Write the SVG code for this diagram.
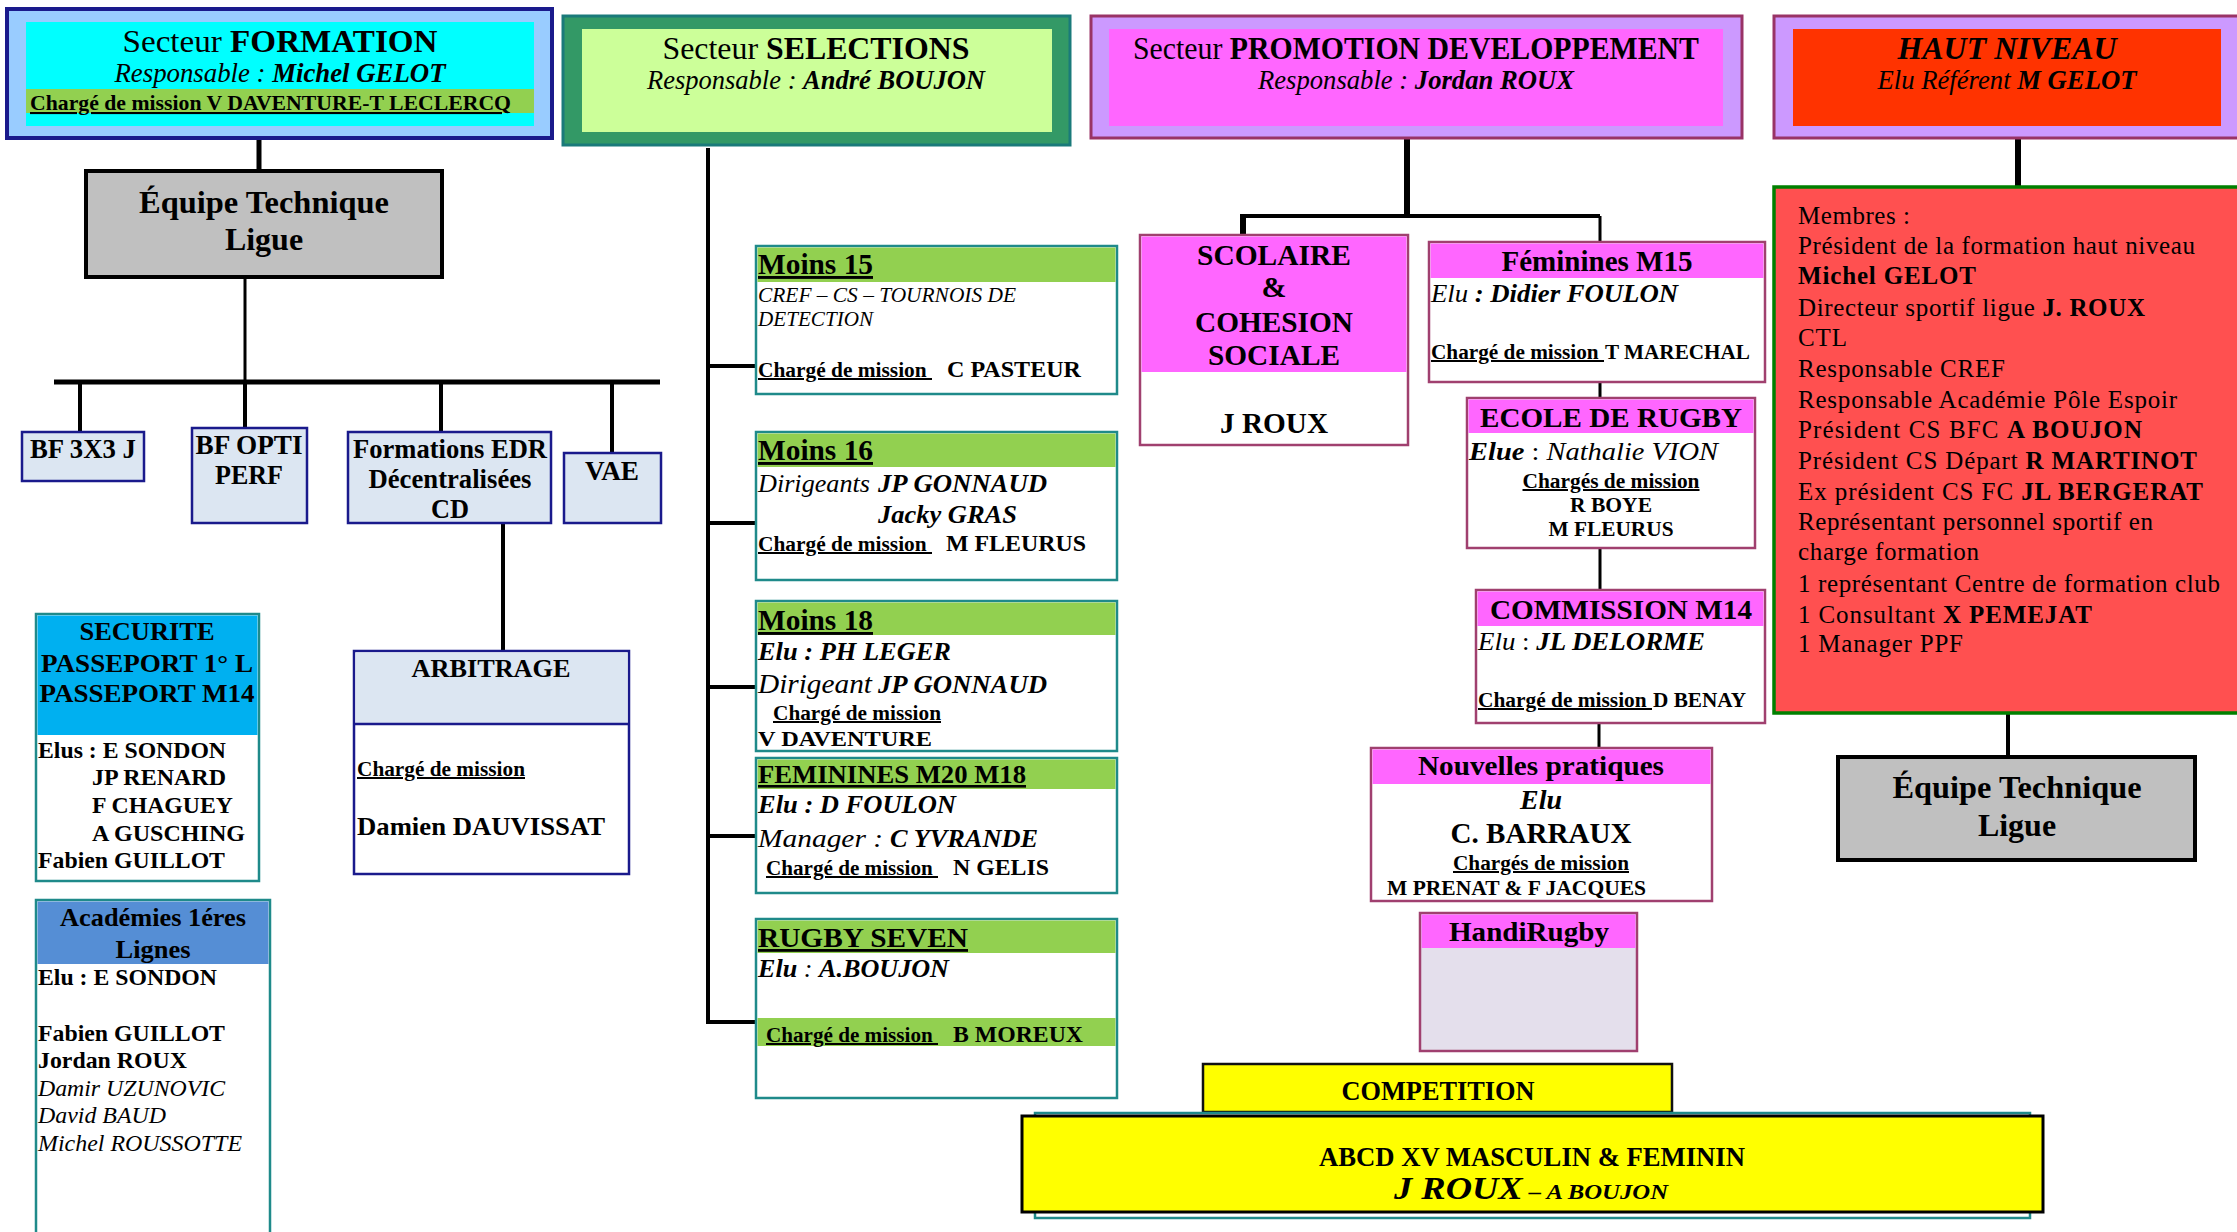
<svg xmlns="http://www.w3.org/2000/svg" width="2237" height="1232" viewBox="0 0 2237 1232">
<style>
text{font-family:"Liberation Serif","Times New Roman",serif;fill:#000}
.b{font-weight:bold}
.i{font-style:italic}
.n{font-weight:normal;font-style:normal}
.u{text-decoration:underline}
.c{text-anchor:middle}
.sq{lengthAdjust:spacingAndGlyphs}
.tealbox{fill:#fff;stroke:#1f8a8a;stroke-width:2.5}
.plumbox{fill:#fff;stroke:#a0406f;stroke-width:2.5}
.navybox{fill:#dce6f2;stroke:#1a1a8c;stroke-width:2.5}
.grey{fill:#c0c0c0;stroke:#000;stroke-width:4}
.gh{fill:#92d050}
.mh{fill:#ff66ff}
#connectors path{fill:none;stroke:#000}
</style>
<rect width="2237" height="1232" fill="#fff"/>

<g id="connectors">
<path d="M259 138V171" stroke-width="5"/>
<path d="M245 277V382" stroke-width="3"/>
<path d="M54 382H660" stroke-width="5"/>
<path d="M80 382V432M245 382V428M441 382V432M612 382V453" stroke-width="4"/>
<path d="M503 523V651" stroke-width="4"/>
<path d="M708 148V1022H756M708 366H756M708 523H756M708 687H756M708 836H756" stroke-width="4"/>
<path d="M1407 138V216" stroke-width="6"/>
<path d="M1243 216H1600" stroke-width="4"/>
<path d="M1243 214V235" stroke-width="6"/>
<path d="M1600 216V242M1600 382V398M1600 548V590M1599 723V748" stroke-width="3"/>
<path d="M2018 138V187" stroke-width="6"/>
<path d="M2008 713V757" stroke-width="4"/>
</g>

<g id="secteur-formation">
<rect x="7" y="9" width="545" height="129" fill="#99ccff" stroke="#1a1a8c" stroke-width="4"/>
<rect x="26" y="22" width="508" height="104" fill="#00ffff"/>
<rect x="26" y="89" width="508" height="24" fill="#92d050"/>
<text x="280" y="52" class="c" font-size="32" textLength="315" lengthAdjust="spacingAndGlyphs">Secteur  <tspan class="b">FORMATION</tspan></text>
<text x="280" y="82" class="c i" font-size="27" textLength="331" lengthAdjust="spacingAndGlyphs">Responsable : <tspan class="b">Michel GELOT</tspan></text>
<text x="30" y="110" class="b u" font-size="21" textLength="481" lengthAdjust="spacingAndGlyphs">Chargé de mission  V DAVENTURE-T LECLERCQ</text>
</g>

<g id="equipe-technique-formation">
<rect x="86" y="171" width="356" height="106" class="grey"/>
<text x="264" y="213" class="c b" font-size="32" textLength="250" lengthAdjust="spacingAndGlyphs">Équipe Technique</text>
<text x="264" y="250" class="c b" font-size="32">Ligue</text>
</g>

<g id="bf-3x3">
<rect x="22" y="432" width="122" height="49" class="navybox"/>
<text x="83" y="458" class="c b" font-size="27" textLength="106" lengthAdjust="spacingAndGlyphs">BF 3X3 J</text>
</g>
<g id="bf-opti">
<rect x="192" y="428" width="115" height="95" class="navybox"/>
<text x="249" y="454" class="c b" font-size="27" textLength="107" lengthAdjust="spacingAndGlyphs">BF OPTI</text>
<text x="249" y="484" class="c b" font-size="27" textLength="68" lengthAdjust="spacingAndGlyphs">PERF</text>
</g>
<g id="formations-edr">
<rect x="348" y="432" width="203" height="91" class="navybox"/>
<text x="450" y="458" class="c b" font-size="27" textLength="194" lengthAdjust="spacingAndGlyphs">Formations EDR</text>
<text x="450" y="488" class="c b" font-size="27" textLength="163" lengthAdjust="spacingAndGlyphs">Décentralisées</text>
<text x="450" y="518" class="c b" font-size="27" textLength="38" lengthAdjust="spacingAndGlyphs">CD</text>
</g>
<g id="vae">
<rect x="564" y="453" width="97" height="70" class="navybox"/>
<text x="612" y="480" class="c b" font-size="27" textLength="54" lengthAdjust="spacingAndGlyphs">VAE</text>
</g>

<g id="securite">
<rect x="36" y="614" width="223" height="267" class="tealbox"/>
<rect x="37.5" y="615.5" width="220" height="119.5" fill="#00b0f0"/>
<text x="147" y="640" class="c b" font-size="26" textLength="135" lengthAdjust="spacingAndGlyphs">SECURITE</text>
<text x="147" y="672" class="c b" font-size="26" textLength="212" lengthAdjust="spacingAndGlyphs">PASSEPORT 1° L</text>
<text x="147" y="702" class="c b" font-size="26" textLength="215" lengthAdjust="spacingAndGlyphs">PASSEPORT M14</text>
<text x="38" y="758" class="b" font-size="23" textLength="188" lengthAdjust="spacingAndGlyphs">Elus : E SONDON</text>
<text x="92" y="785" class="b" font-size="23" textLength="134" lengthAdjust="spacingAndGlyphs">JP RENARD</text>
<text x="92" y="813" class="b" font-size="23" textLength="141" lengthAdjust="spacingAndGlyphs">F CHAGUEY</text>
<text x="92" y="841" class="b" font-size="23" textLength="153" lengthAdjust="spacingAndGlyphs">A GUSCHING</text>
<text x="38" y="868" class="b" font-size="23" textLength="187" lengthAdjust="spacingAndGlyphs">Fabien GUILLOT</text>
</g>

<g id="academies">
<rect x="36" y="900" width="234" height="345" class="tealbox"/>
<rect x="37.5" y="901.5" width="231" height="62.5" fill="#558ed5"/>
<text x="153" y="926" class="c b" font-size="26" textLength="186" lengthAdjust="spacingAndGlyphs">Académies 1éres</text>
<text x="153" y="958" class="c b" font-size="26" textLength="75" lengthAdjust="spacingAndGlyphs">Lignes</text>
<text x="38" y="985" class="b" font-size="23" textLength="179" lengthAdjust="spacingAndGlyphs">Elu : E SONDON</text>
<text x="38" y="1041" class="b" font-size="23" textLength="187" lengthAdjust="spacingAndGlyphs">Fabien GUILLOT</text>
<text x="38" y="1068" class="b" font-size="23" textLength="149" lengthAdjust="spacingAndGlyphs">Jordan ROUX</text>
<text x="38" y="1096" class="i" font-size="23" textLength="187" lengthAdjust="spacingAndGlyphs">Damir UZUNOVIC</text>
<text x="38" y="1123" class="i" font-size="23" textLength="128" lengthAdjust="spacingAndGlyphs">David BAUD</text>
<text x="38" y="1151" class="i" font-size="23" textLength="204" lengthAdjust="spacingAndGlyphs">Michel ROUSSOTTE</text>
</g>

<g id="arbitrage">
<rect x="354" y="651" width="275" height="223" fill="#fff" stroke="#1a1a8c" stroke-width="2.5"/>
<rect x="355.5" y="652.5" width="272" height="71.5" fill="#dce6f2"/>
<path d="M354 724H629" stroke="#1a1a8c" stroke-width="2.5"/>
<text x="491" y="677" class="c b" font-size="26" textLength="159" lengthAdjust="spacingAndGlyphs">ARBITRAGE</text>
<text x="357" y="776" class="b u" font-size="20" textLength="168" lengthAdjust="spacingAndGlyphs">Chargé de mission</text>
<text x="357" y="835" class="b" font-size="26" textLength="248" lengthAdjust="spacingAndGlyphs">Damien DAUVISSAT</text>
</g>

<g id="secteur-selections">
<rect x="563" y="16" width="507" height="129" fill="#339966" stroke="#1a7a7a" stroke-width="3"/>
<rect x="582" y="29" width="470" height="103" fill="#ccff99"/>
<text x="816" y="59" class="c" font-size="32" textLength="307" lengthAdjust="spacingAndGlyphs">Secteur <tspan class="b">SELECTIONS</tspan></text>
<text x="816" y="89" class="c i" font-size="27" textLength="338" lengthAdjust="spacingAndGlyphs">Responsable : <tspan class="b">André BOUJON</tspan></text>
</g>

<g id="moins-15">
<rect x="756" y="246" width="361" height="148" class="tealbox"/>
<rect x="757.5" y="247.5" width="358" height="34.5" class="gh"/>
<text x="758" y="274" class="b u" font-size="29" textLength="115" lengthAdjust="spacingAndGlyphs">Moins 15</text>
<text x="758" y="302" class="i" font-size="20" textLength="258" lengthAdjust="spacingAndGlyphs">CREF – CS – TOURNOIS DE</text>
<text x="758" y="326" class="i" font-size="20" textLength="115" lengthAdjust="spacingAndGlyphs">DETECTION</text>
<text x="758" y="377" class="b u" font-size="20" textLength="174" lengthAdjust="spacingAndGlyphs">Chargé de mission&#160;</text>
<text x="947" y="377" class="b" font-size="24" textLength="134" lengthAdjust="spacingAndGlyphs">C PASTEUR</text>
</g>

<g id="moins-16">
<rect x="756" y="432" width="361" height="148" class="tealbox"/>
<rect x="757.5" y="433.5" width="358" height="33.5" class="gh"/>
<text x="758" y="460" class="b u" font-size="29" textLength="115" lengthAdjust="spacingAndGlyphs">Moins 16</text>
<text x="758" y="492" class="i" font-size="26" textLength="112" lengthAdjust="spacingAndGlyphs">Dirigeants</text>
<text x="878" y="492" class="b i" font-size="26" textLength="169" lengthAdjust="spacingAndGlyphs">JP GONNAUD</text>
<text x="878" y="523" class="b i" font-size="26" textLength="139" lengthAdjust="spacingAndGlyphs">Jacky GRAS</text>
<text x="758" y="551" class="b u" font-size="20" textLength="174" lengthAdjust="spacingAndGlyphs">Chargé de mission&#160;</text>
<text x="946" y="551" class="b" font-size="24" textLength="140" lengthAdjust="spacingAndGlyphs">M FLEURUS</text>
</g>

<g id="moins-18">
<rect x="756" y="601" width="361" height="150" class="tealbox"/>
<rect x="757.5" y="602.5" width="358" height="32.5" class="gh"/>
<text x="758" y="630" class="b u" font-size="29" textLength="115" lengthAdjust="spacingAndGlyphs">Moins 18</text>
<text x="758" y="660" class="b i" font-size="26" textLength="193" lengthAdjust="spacingAndGlyphs">Elu : PH LEGER</text>
<text x="758" y="693" class="i" font-size="28" textLength="114" lengthAdjust="spacingAndGlyphs">Dirigeant</text>
<text x="878" y="693" class="b i" font-size="26" textLength="169" lengthAdjust="spacingAndGlyphs">JP GONNAUD</text>
<text x="773" y="720" class="b u" font-size="20" textLength="168" lengthAdjust="spacingAndGlyphs">Chargé de mission</text>
<text x="758" y="746" class="b" font-size="22" textLength="174" lengthAdjust="spacingAndGlyphs">V DAVENTURE</text>
</g>

<g id="feminines-m20-m18">
<rect x="756" y="758" width="361" height="135" class="tealbox"/>
<rect x="757.5" y="759.5" width="358" height="29.5" class="gh"/>
<text x="758" y="783" class="b u" font-size="26" textLength="268" lengthAdjust="spacingAndGlyphs">FEMININES M20 M18</text>
<text x="758" y="813" class="b i" font-size="26" textLength="198" lengthAdjust="spacingAndGlyphs">Elu : D FOULON</text>
<text x="758" y="847" class="i" font-size="26" textLength="125" lengthAdjust="spacingAndGlyphs">Manager :</text>
<text x="890" y="847" class="b i" font-size="26" textLength="148" lengthAdjust="spacingAndGlyphs">C YVRANDE</text>
<text x="766" y="875" class="b u" font-size="20" textLength="172" lengthAdjust="spacingAndGlyphs">Chargé de mission&#160;</text>
<text x="953" y="875" class="b" font-size="24" textLength="96" lengthAdjust="spacingAndGlyphs">N GELIS</text>
</g>

<g id="rugby-seven">
<rect x="756" y="919" width="361" height="179" class="tealbox"/>
<rect x="757.5" y="920.5" width="358" height="32.5" class="gh"/>
<rect x="757.5" y="1018" width="358" height="28" class="gh"/>
<text x="758" y="947" class="b u" font-size="28" textLength="210" lengthAdjust="spacingAndGlyphs">RUGBY SEVEN</text>
<text x="758" y="977" class="i" font-size="26" textLength="191" lengthAdjust="spacingAndGlyphs"><tspan class="b">Elu</tspan> : <tspan class="b">A.BOUJON</tspan></text>
<text x="766" y="1042" class="b u" font-size="20" textLength="172" lengthAdjust="spacingAndGlyphs">Chargé de mission&#160;</text>
<text x="953" y="1042" class="b" font-size="24" textLength="130" lengthAdjust="spacingAndGlyphs">B MOREUX</text>
</g>

<g id="secteur-promotion">
<rect x="1091" y="16" width="651" height="122" fill="#cc99ff" stroke="#993366" stroke-width="3"/>
<rect x="1109" y="29" width="614" height="97" fill="#ff66ff"/>
<text x="1416" y="59" class="c" font-size="31" textLength="566" lengthAdjust="spacingAndGlyphs">Secteur <tspan class="b">PROMOTION DEVELOPPEMENT</tspan></text>
<text x="1416" y="89" class="c i" font-size="27" textLength="316" lengthAdjust="spacingAndGlyphs">Responsable : <tspan class="b">Jordan ROUX</tspan></text>
</g>

<g id="scolaire">
<rect x="1140" y="235" width="268" height="210" class="plumbox"/>
<rect x="1141.5" y="236.5" width="265" height="135.5" class="mh"/>
<text x="1274" y="265" class="c b" font-size="30" textLength="154" lengthAdjust="spacingAndGlyphs">SCOLAIRE</text>
<text x="1274" y="297" class="c b" font-size="30">&amp;</text>
<text x="1274" y="332" class="c b" font-size="30" textLength="158" lengthAdjust="spacingAndGlyphs">COHESION</text>
<text x="1274" y="365" class="c b" font-size="30" textLength="132" lengthAdjust="spacingAndGlyphs">SOCIALE</text>
<text x="1274" y="433" class="c b" font-size="30" textLength="108" lengthAdjust="spacingAndGlyphs">J ROUX</text>
</g>

<g id="feminines-m15">
<rect x="1429" y="242" width="336" height="140" class="plumbox"/>
<rect x="1430.5" y="243.5" width="333" height="34.5" class="mh"/>
<text x="1597" y="271" class="c b" font-size="29" textLength="191" lengthAdjust="spacingAndGlyphs">Féminines M15</text>
<text x="1431" y="302" class="i" font-size="26" textLength="247" lengthAdjust="spacingAndGlyphs">Elu <tspan class="b">: Didier FOULON</tspan></text>
<text x="1431" y="359" class="b u" font-size="20" textLength="173" lengthAdjust="spacingAndGlyphs">Chargé de mission&#160;</text>
<text x="1605" y="359" class="b" font-size="20" textLength="145" lengthAdjust="spacingAndGlyphs">T MARECHAL</text>
</g>

<g id="ecole-de-rugby">
<rect x="1467" y="398" width="288" height="150" class="plumbox"/>
<rect x="1468.5" y="399.5" width="285" height="33.5" class="mh"/>
<text x="1611" y="427" class="c b" font-size="28" textLength="262" lengthAdjust="spacingAndGlyphs">ECOLE DE RUGBY</text>
<text x="1469" y="460" class="i" font-size="26" textLength="249" lengthAdjust="spacingAndGlyphs"><tspan class="b">Elue</tspan><tspan class="n"> : </tspan>Nathalie VION</text>
<text x="1611" y="488" class="c b u" font-size="20" textLength="177" lengthAdjust="spacingAndGlyphs">Chargés de mission</text>
<text x="1611" y="512" class="c b" font-size="20" textLength="82" lengthAdjust="spacingAndGlyphs">R BOYE</text>
<text x="1611" y="536" class="c b" font-size="20" textLength="125" lengthAdjust="spacingAndGlyphs">M FLEURUS</text>
</g>

<g id="commission-m14">
<rect x="1476" y="590" width="289" height="133" class="plumbox"/>
<rect x="1477.5" y="591.5" width="286" height="34.5" class="mh"/>
<text x="1621" y="619" class="c b" font-size="28" textLength="262" lengthAdjust="spacingAndGlyphs">COMMISSION M14</text>
<text x="1478" y="650" class="i" font-size="26" textLength="227" lengthAdjust="spacingAndGlyphs">Elu<tspan class="n"> : </tspan><tspan class="b">JL DELORME</tspan></text>
<text x="1478" y="707" class="b u" font-size="20" textLength="174" lengthAdjust="spacingAndGlyphs">Chargé de mission&#160;</text>
<text x="1653" y="707" class="b" font-size="20" textLength="93" lengthAdjust="spacingAndGlyphs">D BENAY</text>
</g>

<g id="nouvelles-pratiques">
<rect x="1371" y="748" width="341" height="153" class="plumbox"/>
<rect x="1372.5" y="749.5" width="338" height="34.5" class="mh"/>
<text x="1541" y="775" class="c b" font-size="28" textLength="246" lengthAdjust="spacingAndGlyphs">Nouvelles pratiques</text>
<text x="1541" y="809" class="c b i" font-size="28">Elu</text>
<text x="1541" y="843" class="c b" font-size="30" textLength="181" lengthAdjust="spacingAndGlyphs">C. BARRAUX</text>
<text x="1541" y="870" class="c b u" font-size="20" textLength="176" lengthAdjust="spacingAndGlyphs">Chargés de mission</text>
<text x="1387" y="895" class="b" font-size="20" textLength="259" lengthAdjust="spacingAndGlyphs">M PRENAT &amp; F JACQUES</text>
</g>

<g id="handirugby">
<rect x="1420" y="913" width="217" height="138" fill="#e4dfec" stroke="#a0406f" stroke-width="2.5"/>
<rect x="1421.5" y="914.5" width="214" height="33.5" class="mh"/>
<text x="1529" y="941" class="c b" font-size="28" textLength="160" lengthAdjust="spacingAndGlyphs">HandiRugby</text>
</g>

<g id="competition">
<rect x="1203" y="1064" width="469" height="48" fill="#ffff00" stroke="#111" stroke-width="2.5"/>
<text x="1438" y="1100" class="c b" font-size="27" textLength="193" lengthAdjust="spacingAndGlyphs">COMPETITION</text>
</g>

<g id="abcd-xv">
<rect x="1035" y="1113" width="995" height="105" fill="#fff" stroke="#1f8a8a" stroke-width="2.5"/>
<rect x="1022" y="1116" width="1021" height="96" fill="#ffff00" stroke="#000" stroke-width="3"/>
<text x="1532" y="1166" class="c b" font-size="28" textLength="426" lengthAdjust="spacingAndGlyphs">ABCD XV MASCULIN &amp; FEMININ</text>
<text x="1394" y="1199" class="b i" textLength="274" lengthAdjust="spacingAndGlyphs"><tspan font-size="31">J ROUX</tspan><tspan font-size="21"> – A BOUJON</tspan></text>
</g>

<g id="haut-niveau">
<rect x="1774" y="16" width="470" height="122" fill="#cc99ff" stroke="#993366" stroke-width="3"/>
<rect x="1793" y="29" width="428" height="97" fill="#ff3300"/>
<text x="2007" y="59" class="c b i" font-size="32" textLength="219" lengthAdjust="spacingAndGlyphs">HAUT NIVEAU</text>
<text x="2007" y="89" class="c i" font-size="27" textLength="259" lengthAdjust="spacingAndGlyphs">Elu Référent <tspan class="b">M GELOT</tspan></text>
</g>

<g id="membres">
<rect x="1774" y="187" width="475" height="526" fill="#ff5050" stroke="#008000" stroke-width="3.5"/>
<g font-size="25">
<text x="1798" y="224" textLength="112">Membres :</text>
<text x="1798" y="254" textLength="397">Président de la formation haut niveau</text>
<text x="1798" y="284" class="b" textLength="178">Michel GELOT</text>
<text x="1798" y="316" textLength="347">Directeur sportif ligue <tspan class="b">J. ROUX</tspan></text>
<text x="1798" y="346" textLength="49">CTL</text>
<text x="1798" y="377" textLength="207">Responsable CREF</text>
<text x="1798" y="408" textLength="379">Responsable Académie Pôle Espoir</text>
<text x="1798" y="438" textLength="344">Président CS BFC  <tspan class="b">A BOUJON</tspan></text>
<text x="1798" y="469" textLength="399">Président CS Départ <tspan class="b">R MARTINOT</tspan></text>
<text x="1798" y="500" textLength="405">Ex président CS FC <tspan class="b">JL BERGERAT</tspan></text>
<text x="1798" y="530" textLength="355">Représentant personnel sportif en</text>
<text x="1798" y="560" textLength="181">charge formation</text>
<text x="1798" y="592" textLength="422">1 représentant Centre de formation club</text>
<text x="1798" y="623" textLength="294">1 Consultant <tspan class="b">X PEMEJAT</tspan></text>
<text x="1798" y="652" textLength="165">1 Manager PPF</text>
</g>
</g>

<g id="equipe-technique-haut-niveau">
<rect x="1838" y="757" width="357" height="103" class="grey"/>
<text x="2017" y="798" class="c b" font-size="32" textLength="249" lengthAdjust="spacingAndGlyphs">Équipe Technique</text>
<text x="2017" y="836" class="c b" font-size="32">Ligue</text>
</g>
</svg>
